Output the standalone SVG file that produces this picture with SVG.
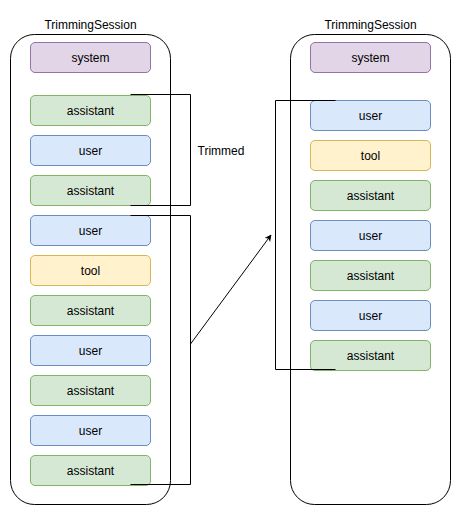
<svg xmlns="http://www.w3.org/2000/svg" width="461" height="515" viewBox="0 0 461 515">
<defs>
<style>
text{font-family:"Liberation Sans",Arial,Helvetica,sans-serif;font-size:12px;fill:#000;text-anchor:middle;dominant-baseline:central}
.box{stroke-width:1}
.sys{fill:#e1d5e7;stroke:#9673a6}
.ast{fill:#d5e8d4;stroke:#82b366}
.usr{fill:#dae8fc;stroke:#6c8ebf}
.tool{fill:#fff2cc;stroke:#d6b656}
.cont{fill:#fff;stroke:#000;stroke-width:1}
.ln{fill:none;stroke:#000;stroke-width:1}
</style>
<marker id="ah" viewBox="0 0 10 10" refX="9" refY="5" markerWidth="7" markerHeight="7" orient="auto" markerUnits="userSpaceOnUse">
<path d="M0,0 L10,5 L0,10 L3,5 Z" fill="#000"/>
</marker>
</defs>
<rect width="461" height="515" fill="#fff"/>

<g id="left-session">
<rect class="cont" x="10.5" y="34.5" width="160" height="470" rx="24"/>
<text x="90.5" y="25">TrimmingSession</text>
</g>
<g id="right-session">
<rect class="cont" x="290.5" y="34.5" width="160" height="470" rx="24"/>
<text x="370.5" y="25">TrimmingSession</text>
</g>

<g id="L-system"><rect class="box sys" x="30.5" y="42.5" width="120" height="30" rx="4.5"/><text x="90.5" y="57.5">system</text></g>
<g id="L-assistant1"><rect class="box ast" x="30.5" y="95.5" width="120" height="30" rx="4.5"/><text x="90.5" y="110.5">assistant</text></g>
<g id="L-user1"><rect class="box usr" x="30.5" y="135.5" width="120" height="30" rx="4.5"/><text x="90.5" y="150.5">user</text></g>
<g id="L-assistant2"><rect class="box ast" x="30.5" y="175.5" width="120" height="30" rx="4.5"/><text x="90.5" y="190.5">assistant</text></g>
<g id="L-user2"><rect class="box usr" x="30.5" y="215.5" width="120" height="30" rx="4.5"/><text x="90.5" y="230.5">user</text></g>
<g id="L-tool"><rect class="box tool" x="30.5" y="255.5" width="120" height="30" rx="4.5"/><text x="90.5" y="270.5">tool</text></g>
<g id="L-assistant3"><rect class="box ast" x="30.5" y="295.5" width="120" height="30" rx="4.5"/><text x="90.5" y="310.5">assistant</text></g>
<g id="L-user3"><rect class="box usr" x="30.5" y="335.5" width="120" height="30" rx="4.5"/><text x="90.5" y="350.5">user</text></g>
<g id="L-assistant4"><rect class="box ast" x="30.5" y="375.5" width="120" height="30" rx="4.5"/><text x="90.5" y="390.5">assistant</text></g>
<g id="L-user4"><rect class="box usr" x="30.5" y="415.5" width="120" height="30" rx="4.5"/><text x="90.5" y="430.5">user</text></g>
<g id="L-assistant5"><rect class="box ast" x="30.5" y="455.5" width="120" height="30" rx="4.5"/><text x="90.5" y="470.5">assistant</text></g>

<g id="R-system"><rect class="box sys" x="310.5" y="42.5" width="120" height="30" rx="4.5"/><text x="370.5" y="57.5">system</text></g>
<g id="R-user1"><rect class="box usr" x="310.5" y="100.5" width="120" height="30" rx="4.5"/><text x="370.5" y="115.5">user</text></g>
<g id="R-tool"><rect class="box tool" x="310.5" y="140.5" width="120" height="30" rx="4.5"/><text x="370.5" y="155.5">tool</text></g>
<g id="R-assistant1"><rect class="box ast" x="310.5" y="180.5" width="120" height="30" rx="4.5"/><text x="370.5" y="195.5">assistant</text></g>
<g id="R-user2"><rect class="box usr" x="310.5" y="220.5" width="120" height="30" rx="4.5"/><text x="370.5" y="235.5">user</text></g>
<g id="R-assistant2"><rect class="box ast" x="310.5" y="260.5" width="120" height="30" rx="4.5"/><text x="370.5" y="275.5">assistant</text></g>
<g id="R-user3"><rect class="box usr" x="310.5" y="300.5" width="120" height="30" rx="4.5"/><text x="370.5" y="315.5">user</text></g>
<g id="R-assistant3"><rect class="box ast" x="310.5" y="340.5" width="120" height="30" rx="4.5"/><text x="370.5" y="355.5">assistant</text></g>

<g id="connectors">
<path class="ln" d="M130.5,94.5 H190.5 V205.5 H130.5"/>
<path class="ln" d="M130.5,215.5 H190.5 V484.5 H130.5"/>
<path class="ln" d="M335.5,100.5 H275.5 V369.5 H335.5"/>
<line class="ln" x1="190.5" y1="344" x2="271" y2="235" marker-end="url(#ah)"/>
<text x="221" y="150.5">Trimmed</text>
</g>
</svg>
